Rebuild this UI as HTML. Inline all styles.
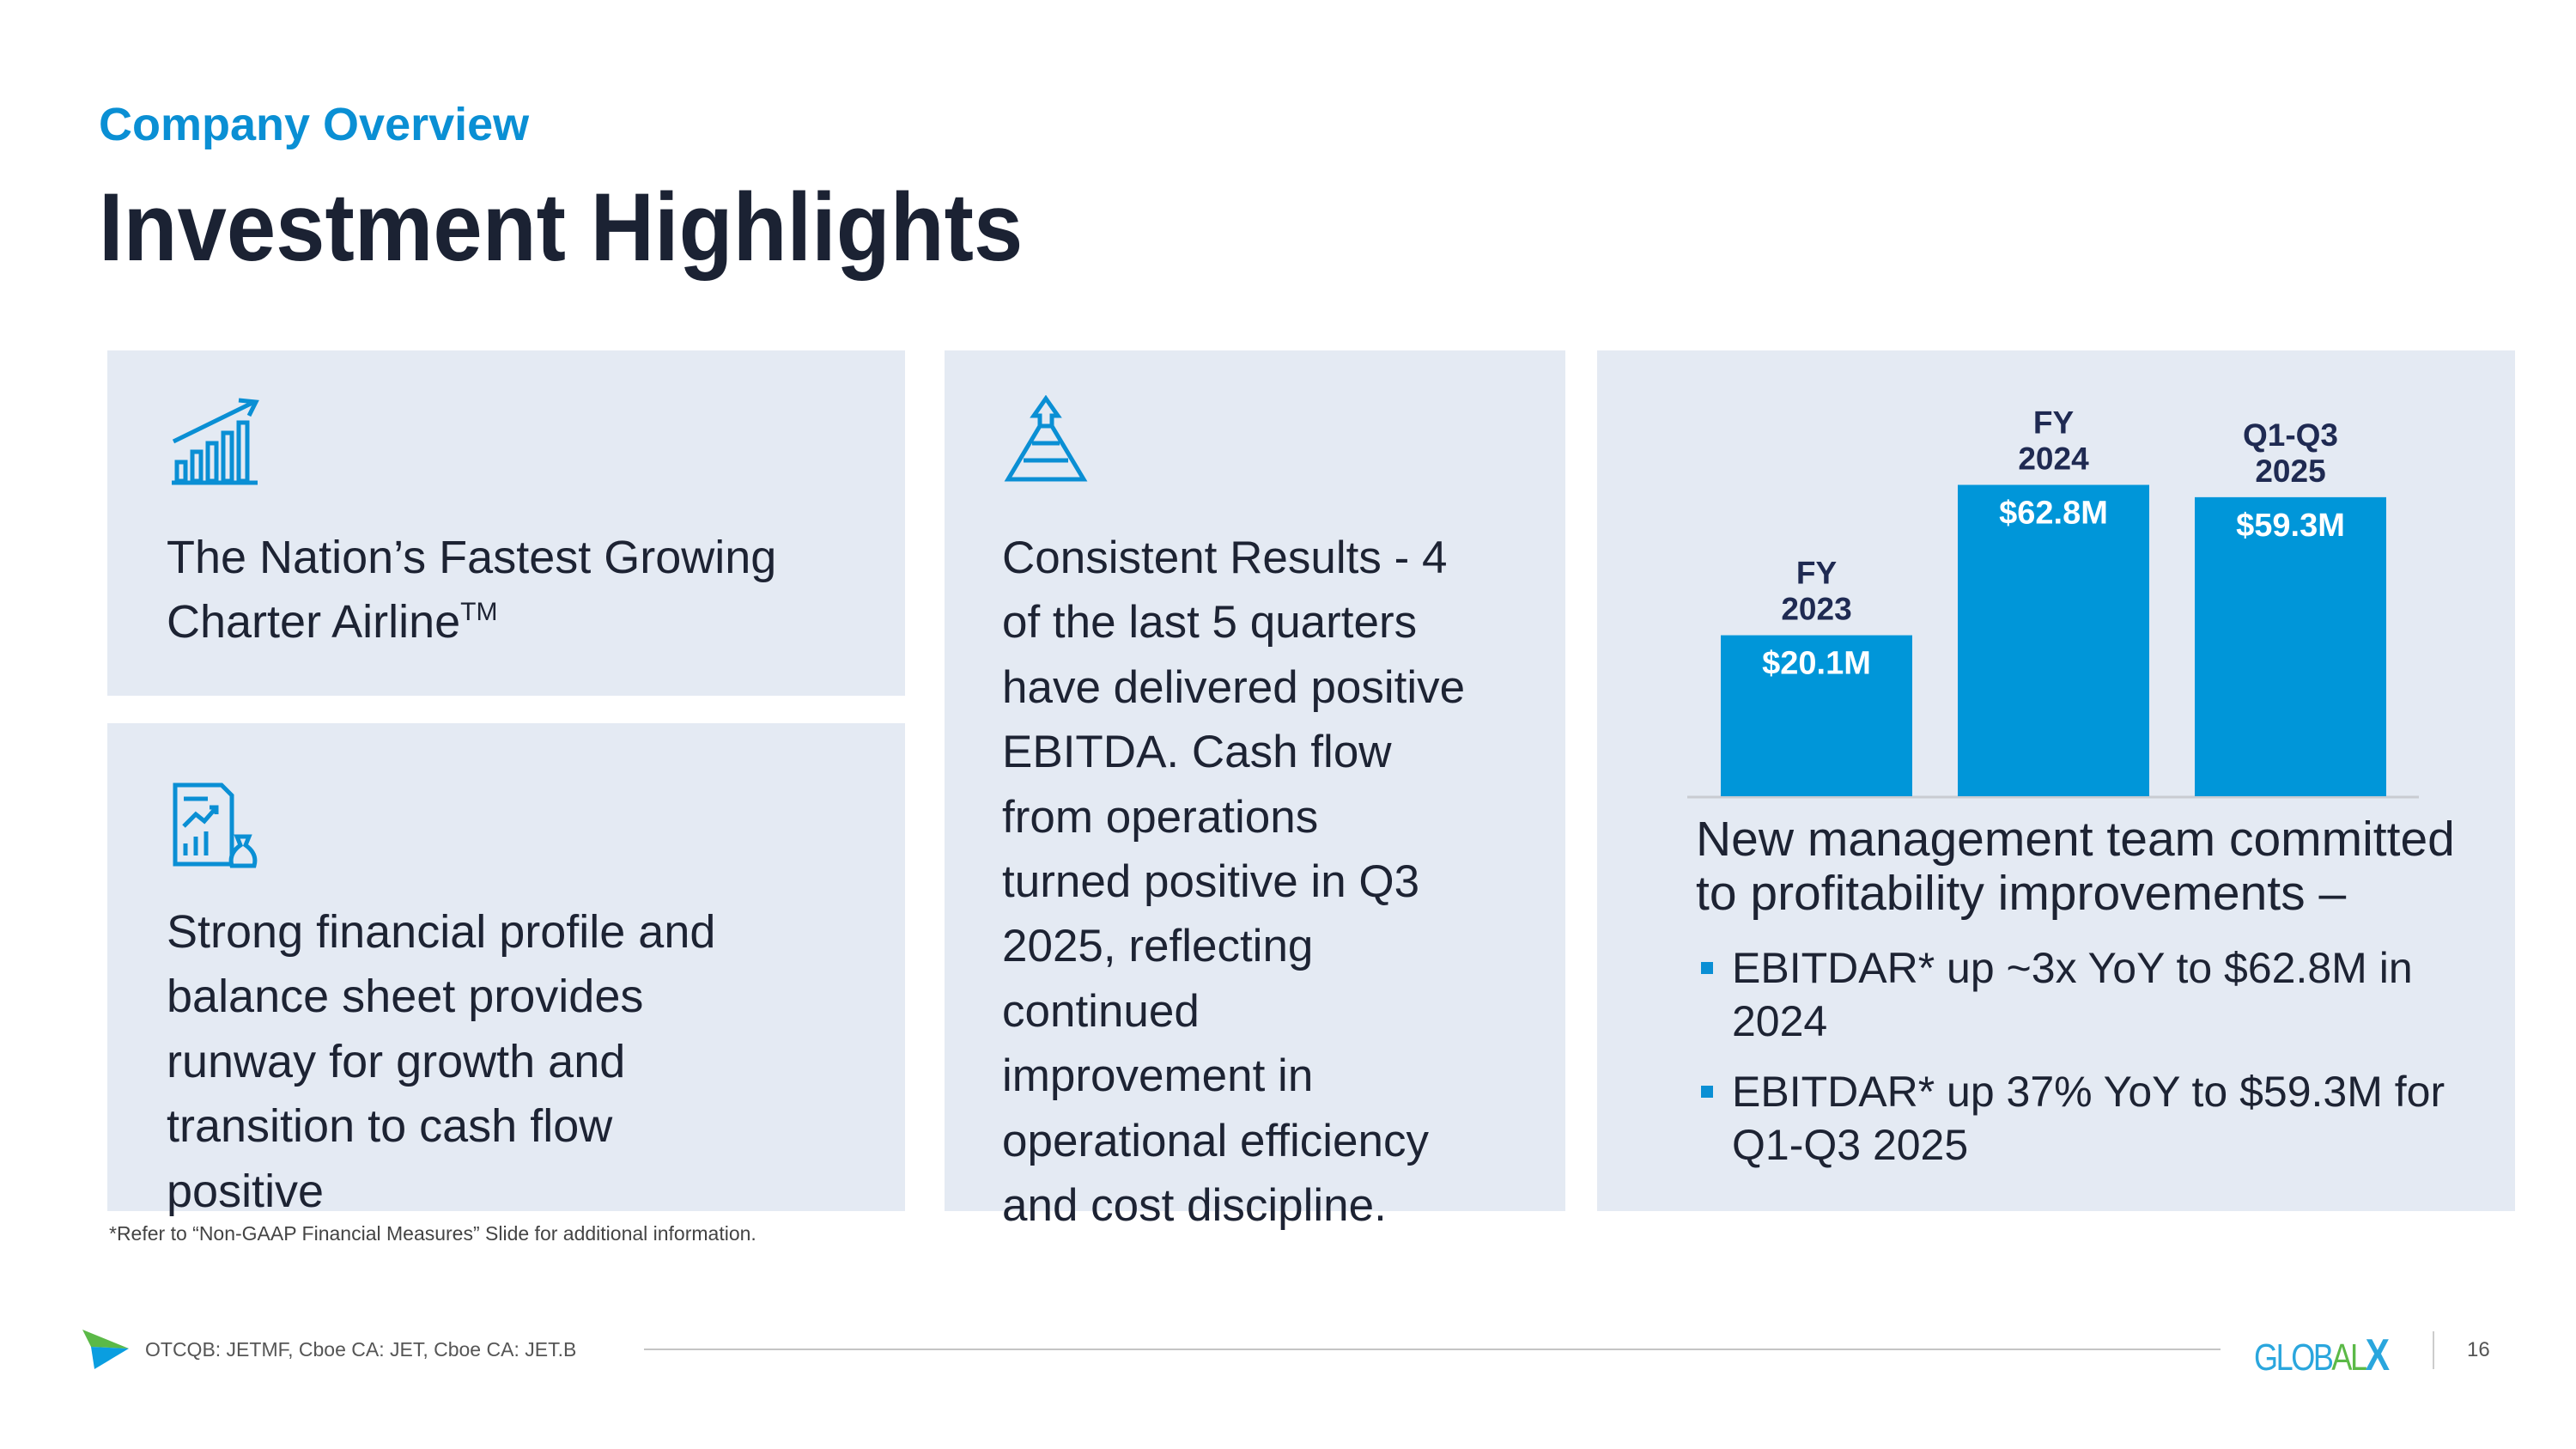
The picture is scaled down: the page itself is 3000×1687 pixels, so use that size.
<!DOCTYPE html>
<html><head><meta charset="utf-8">
<style>
*{margin:0;padding:0;box-sizing:border-box}
body{width:3000px;height:1687px;background:#fff;position:relative;overflow:hidden;font-family:"Liberation Sans",sans-serif;color:#1d2333}
.abs{position:absolute}
.panel{position:absolute;background:#e4eaf3}
.txt{position:absolute;font-size:54px;line-height:75.4px;white-space:nowrap;color:#1d2333}
.sx{display:inline-block;transform-origin:left center}
</style></head><body>
<div class="abs" style="left:115px;top:114px;font-size:54px;font-weight:bold;color:#0a8fd4;white-space:nowrap">Company Overview</div>
<div class="abs" style="left:115px;top:200px;font-size:112px;font-weight:bold;color:#1b2233;white-space:nowrap"><span class="sx" style="transform:scaleX(0.92)">Investment Highlights</span></div>

<div class="panel" style="left:125px;top:408px;width:929px;height:402px"></div>
<div class="panel" style="left:125px;top:842px;width:929px;height:568px"></div>
<div class="panel" style="left:1100px;top:408px;width:723px;height:1002px"></div>
<div class="panel" style="left:1860px;top:408px;width:1069px;height:1002px"></div>

<svg class="abs" style="left:198px;top:462px" width="104" height="104" viewBox="0 0 104 104" fill="none" stroke="#0a8fd4" stroke-width="5">
<line x1="4" y1="44" x2="98" y2="-2" transform="translate(0,8)"/><polyline points="80,4 100,6 92,22"/>
<rect x="8" y="76" width="10" height="22"/><rect x="26" y="64" width="10" height="34"/><rect x="44" y="54" width="10" height="44"/><rect x="62" y="42" width="10" height="56"/><rect x="80" y="30" width="10" height="68"/><line x1="2" y1="100" x2="102" y2="100"/></svg>
<svg class="abs" style="left:1166px;top:460px" width="104" height="104" viewBox="0 0 104 104" fill="none" stroke="#0a8fd4" stroke-width="5">
<polygon points="52,4 66,24 59,24 59,36 45,36 45,24 38,24"/><polygon points="45,36 59,36 96,98 8,98"/><line x1="36" y1="56" x2="68" y2="56"/><line x1="26" y1="76" x2="78" y2="76"/></svg>
<svg class="abs" style="left:198px;top:910px" width="104" height="104" viewBox="0 0 104 104" fill="none" stroke="#0a8fd4" stroke-width="5">
<polygon points="6,4 60,4 72,16 72,96 6,96"/><line x1="16" y1="20" x2="44" y2="20"/><polyline points="16,52 30,38 40,46 54,30"/><polyline points="46,30 54,30 54,38"/><line x1="18" y1="86" x2="18" y2="72"/><line x1="30" y1="86" x2="30" y2="64"/><line x1="42" y1="86" x2="42" y2="58"/>
<path d="M78,64 h14 l-4,10 q14,10 10,24 h-26 q-4,-14 10,-24z" fill="#e4eaf3"/></svg>

<div class="txt" style="left:194px;top:612px">The Nation’s Fastest Growing<br>Charter Airline<sup style="font-size:30px;line-height:0;vertical-align:20px">TM</sup></div>
<div class="txt" style="left:194px;top:1048px">Strong financial profile and<br>balance sheet provides<br>runway for growth and<br>transition to cash flow<br>positive</div>
<div class="txt" style="left:1167px;top:612px;font-size:53px">Consistent Results - 4<br>of the last 5 quarters<br>have delivered positive<br>EBITDA. Cash flow<br>from operations<br>turned positive in Q3<br>2025, reflecting<br>continued<br>improvement in<br>operational efficiency<br>and cost discipline.</div>

<svg id="chart" class="abs" style="left:1860px;top:408px" width="1069" height="560"></svg>

<div class="txt" style="left:1975px;top:946px;font-size:57px;line-height:63px">New management team committed<br>to profitability improvements –</div>
<div class="abs" style="left:1981px;top:1120px;width:14px;height:14px;background:#0a8fd4"></div>
<div class="txt" style="left:2017px;top:1096px;font-size:50px;line-height:62px">EBITDAR* up ~3x YoY to $62.8M in<br>2024</div>
<div class="abs" style="left:1981px;top:1264px;width:14px;height:14px;background:#0a8fd4"></div>
<div class="txt" style="left:2017px;top:1240px;font-size:50px;line-height:62px">EBITDAR* up 37% YoY to $59.3M for<br>Q1-Q3 2025</div>

<div class="abs" style="left:127px;top:1423px;font-size:23px;color:#444;white-space:nowrap">*Refer to “Non-GAAP Financial Measures” Slide for additional information.</div>

<svg class="abs" style="left:96px;top:1548px" width="56" height="46" viewBox="0 0 56 46"><polygon points="0,0 54,22 10,20" fill="#5bb947"/><polygon points="10,20 54,22 14,46" fill="#0a9ee0"/></svg>
<div class="abs" style="left:169px;top:1558px;font-size:23px;color:#555;white-space:nowrap">OTCQB: JETMF, Cboe CA: JET, Cboe CA: JET.B</div>
<div class="abs" style="left:750px;top:1570px;width:1836px;height:2px;background:#c4c4c4"></div>
<div class="abs" style="left:2625px;top:1548px;font-size:44px;letter-spacing:-3px;white-space:nowrap;color:#2aa6dd"><span class="sx" style="transform:scaleX(0.82)">GLOB<span style="color:#5bb947">AL</span><b style="font-size:52px">X</b></span></div>
<div class="abs" style="left:2833px;top:1550px;width:2px;height:44px;background:#ccc"></div>
<div class="abs" style="left:2873px;top:1558px;font-size:24px;color:#555">16</div>

<script>
const categories=[["FY","2023"],["FY","2024"],["Q1-Q3","2025"]];
const values=[20.1,62.8,59.3];
const valueLabels=["$20.1M","$62.8M","$59.3M"];
const svg=document.getElementById('chart');
const NS='http://www.w3.org/2000/svg';
const baseY=519, bandX0=144, bandStep=276, barW=223;
function y(v){return baseY-(105+v*4.1);}
function x(i){return bandX0+i*bandStep;}
const ax=document.createElementNS(NS,'line');
ax.setAttribute('x1',105);ax.setAttribute('x2',957);ax.setAttribute('y1',baseY+1);ax.setAttribute('y2',baseY+1);
ax.setAttribute('stroke','#c9ccd2');ax.setAttribute('stroke-width',3);


svg.appendChild(ax);
values.forEach((v,i)=>{
  const r=document.createElementNS(NS,'rect');
  r.setAttribute('x',x(i));r.setAttribute('y',y(v));r.setAttribute('width',barW);r.setAttribute('height',baseY-y(v));r.setAttribute('fill','#0096d9');
  
  
  svg.appendChild(r);
  const t=document.createElementNS(NS,'text');
  t.setAttribute('x',x(i)+barW/2);t.setAttribute('y',y(v)+45);t.setAttribute('text-anchor','middle');
  t.setAttribute('font-size','38');t.setAttribute('font-weight','bold');t.setAttribute('fill','#fff');t.setAttribute('font-family','Liberation Sans, sans-serif');
  t.textContent=valueLabels[i];
  
  
  svg.appendChild(t);
  categories[i].forEach((s,j)=>{
    const c=document.createElementNS(NS,'text');
    c.setAttribute('x',x(i)+barW/2);c.setAttribute('y',y(v)-18-(1-j)*42);c.setAttribute('text-anchor','middle');
    c.setAttribute('font-size','37');c.setAttribute('font-weight','bold');c.setAttribute('fill','#1f2a52');c.setAttribute('font-family','Liberation Sans, sans-serif');
    c.textContent=s;
    
    
    svg.appendChild(c);
  });
});
</script>
</body></html>
